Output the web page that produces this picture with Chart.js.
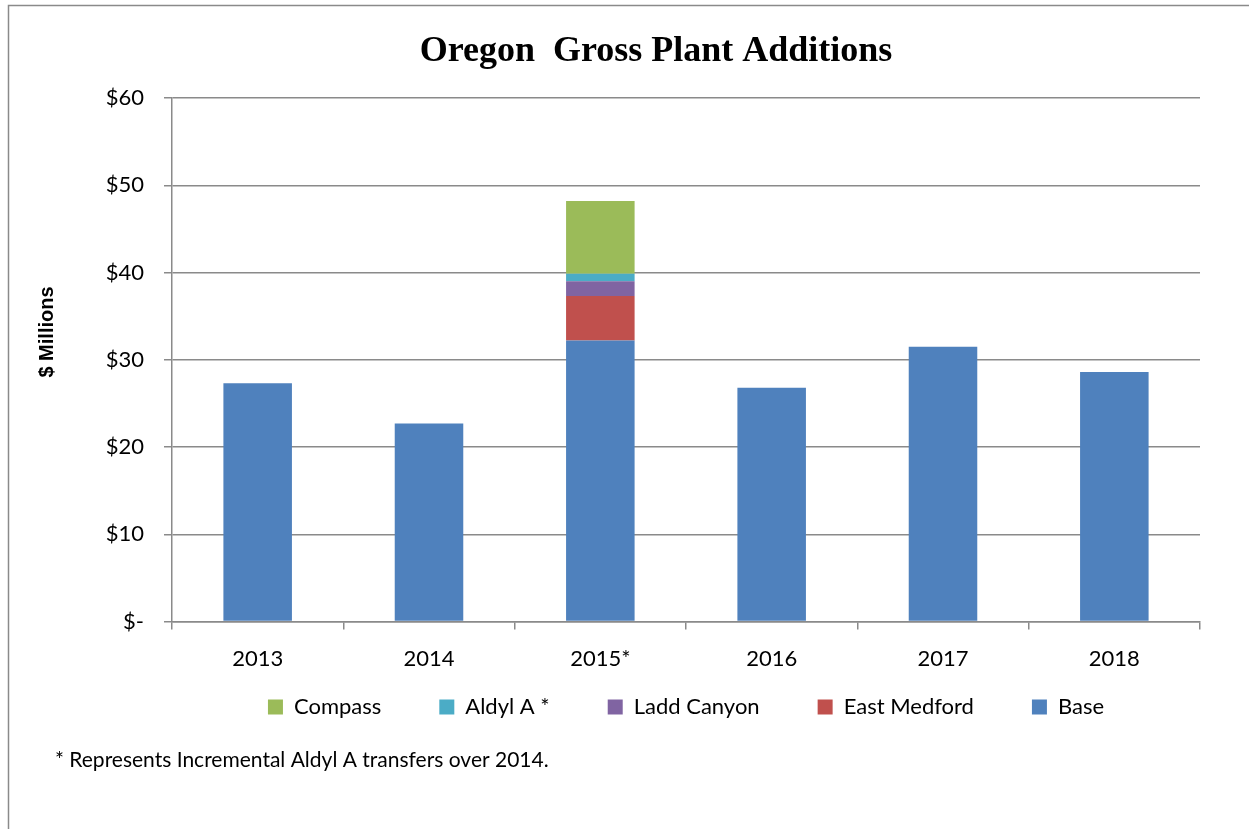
<!DOCTYPE html>
<html>
<head>
<meta charset="utf-8">
<title>Oregon Gross Plant Additions</title>
<script src="https://cdn.jsdelivr.net/npm/chart.js@4/dist/chart.umd.min.js"></script>
<style>
  html, body { margin: 0; padding: 0; background: #fff; }
  #wrap { width: 1249px; height: 829px; position: relative; }
</style>
</head>
<body>
<div id="wrap"><canvas id="plantChart"></canvas></div>
<script>
const years = ['2013', '2014', '2015*', '2016', '2017', '2018'];
const base = [27.3, 22.7, 32.2, 26.8, 31.5, 28.6];
const eastMedford = [0, 0, 5.1, 0, 0, 0];
const laddCanyon = [0, 0, 1.7, 0, 0, 0];
const aldylA = [0, 0, 0.85, 0, 0, 0];
const compass = [0, 0, 8.35, 0, 0, 0];
const yTicks = [0, 10, 20, 30, 40, 50, 60];

const chartTitle = 'Oregon  Gross Plant Additions';
const axisTitle = '$ Millions';
const footnote = '* Represents Incremental Aldyl A transfers over 2014.';
const labelFont = 'Lato, "Liberation Sans", sans-serif';

// outer frame, heading, axis title and the footnote under the legend
const framePlugin = {
  id: 'frame',
  afterLayout(chart) {
    // pull the legend up closer to the year labels
    const shift = 50;
    chart.legend.top -= shift;
    chart.legend.bottom -= shift;
  },
  afterDraw(chart) {
    const ctx = chart.ctx;
    ctx.save();
    ctx.strokeStyle = '#8a8a8a';
    ctx.lineWidth = 1.5;
    ctx.strokeRect(8.5, 5.5, 1400, 1000);

    ctx.fillStyle = '#000';
    ctx.textBaseline = 'middle';
    ctx.textAlign = 'center';
    ctx.font = 'bold 36px "Liberation Serif", "Times New Roman", serif';
    ctx.fillText(chartTitle, 656, 52);

    ctx.save();
    ctx.translate(47, 332);
    ctx.rotate(-Math.PI / 2);
    ctx.font = 'bold 20px "Liberation Sans", Arial, sans-serif';
    ctx.fillText(axisTitle, 0, 0);
    ctx.restore();

    ctx.textAlign = 'left';
    ctx.font = '21px ' + labelFont;
    ctx.fillText(footnote, 55, 760);
    ctx.restore();
  }
};

function dataset(label, data, color) {
  return {
    label,
    data,
    backgroundColor: color,
    borderWidth: 0,
    barPercentage: 0.4,
    categoryPercentage: 1.0
  };
}

const ctx = document.getElementById('plantChart').getContext('2d');
new Chart(ctx, {
  type: 'bar',
  data: {
    labels: years,
    datasets: [
      dataset('Base', base, '#4F81BD'),
      dataset('East Medford', eastMedford, '#C0504D'),
      dataset('Ladd Canyon', laddCanyon, '#8064A2'),
      dataset('Aldyl A *', aldylA, '#4BACC6'),
      dataset('Compass', compass, '#9BBB59')
    ]
  },
  options: {
    responsive: true,
    maintainAspectRatio: false,
    animation: false,
    layout: { padding: { left: 36, right: 49, top: 98, bottom: 51 } },
    plugins: {
      title: { display: false },
      legend: {
        position: 'bottom',
        fullSize: false,
        reverse: true,
        labels: {
          color: '#000',
          font: { family: labelFont, size: 22 },
          boxWidth: 15,
          boxHeight: 15,
          padding: 58
        }
      },
      tooltip: { enabled: false }
    },
    scales: {
      x: {
        stacked: true,
        grid: { drawOnChartArea: false, drawTicks: true, tickLength: 8, color: '#8a8a8a', lineWidth: 1.5 },
        border: { color: '#8a8a8a', width: 1.5 },
        ticks: { color: '#000', font: { family: labelFont, size: 22 }, padding: 16 }
      },
      y: {
        stacked: true,
        min: 0,
        max: 60,
        afterBuildTicks: scale => { scale.ticks = yTicks.map(v => ({ value: v })); },
        afterFit: scale => { scale.width = 136; },
        grid: { color: '#8a8a8a', lineWidth: 1.5, tickLength: 8 },
        border: { color: '#8a8a8a', width: 1.5 },
        ticks: {
          color: '#000',
          font: { family: labelFont, size: 22 },
          padding: 20,
          callback: v => v === 0 ? '$-' : '$' + v
        }
      }
    }
  },
  plugins: [framePlugin]
});
</script>
</body>
</html>
